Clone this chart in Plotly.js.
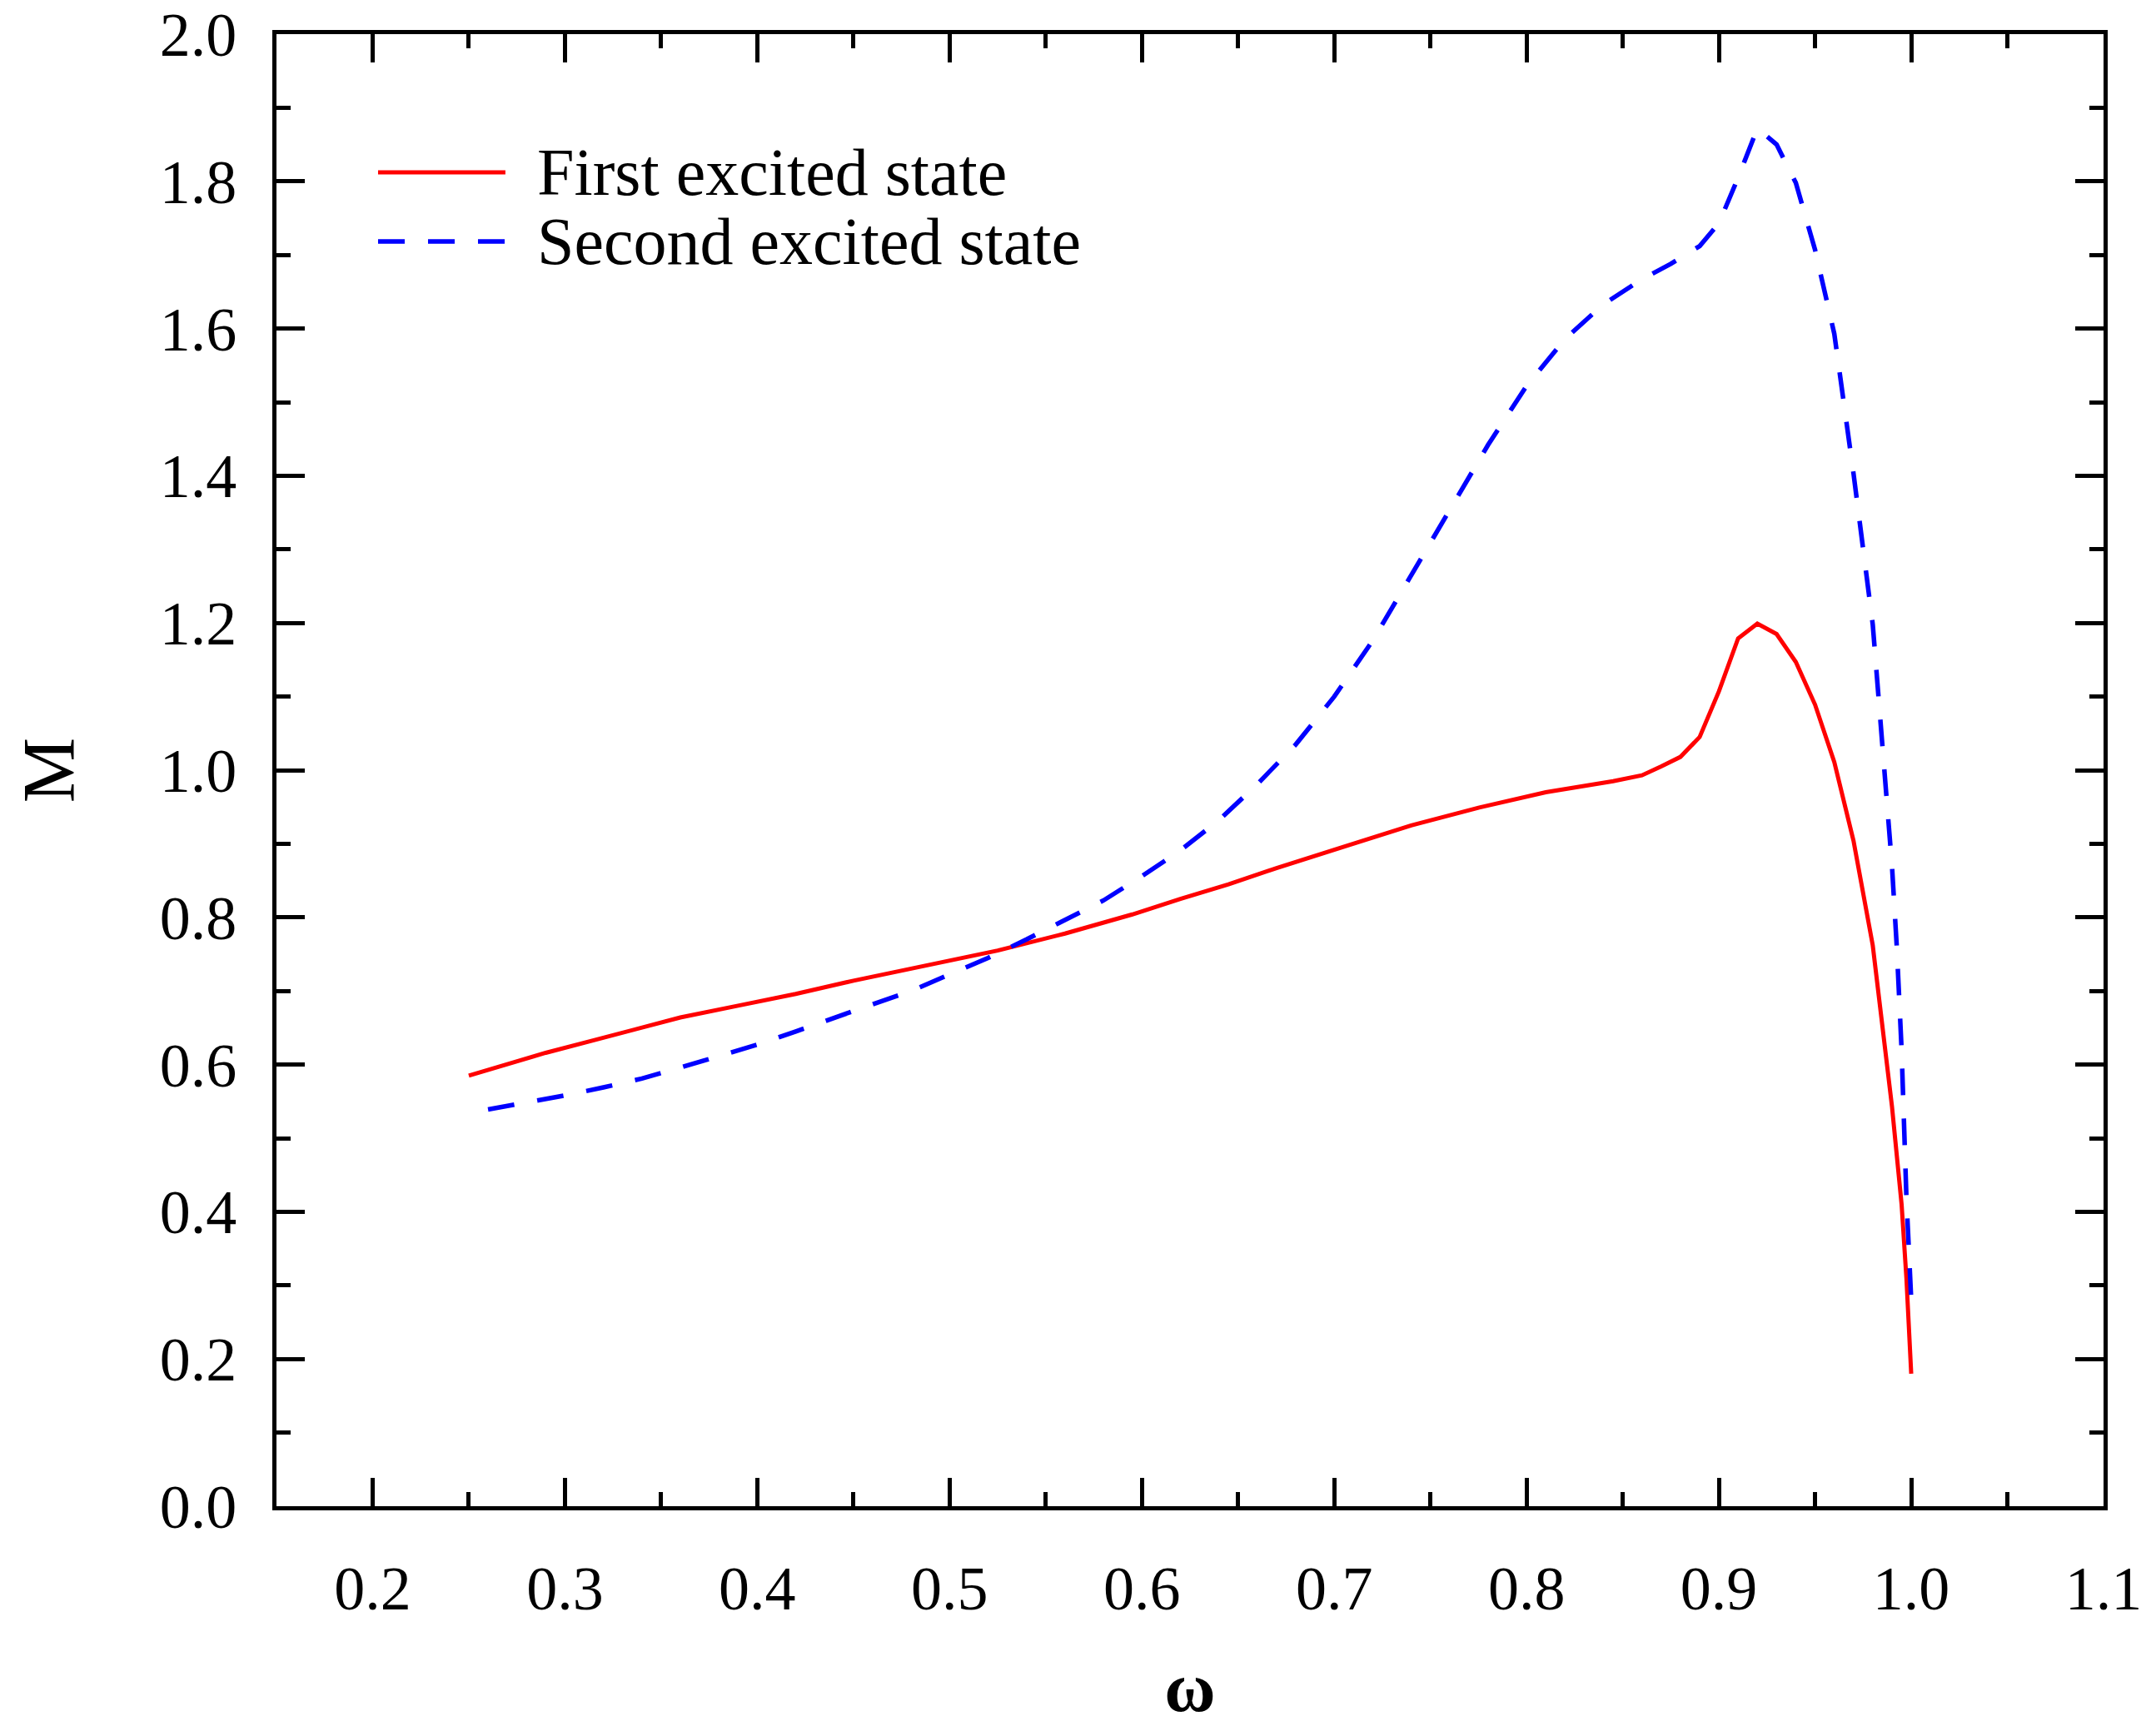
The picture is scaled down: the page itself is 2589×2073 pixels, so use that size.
<!DOCTYPE html>
<html>
<head>
<meta charset="utf-8">
<script src="https://cdn.plot.ly/plotly-3.0.1.min.js"></script>
<style>html,body{margin:0;padding:0;background:#fff;}#chart{width:2589px;height:2073px;}</style>
</head>
<body>
<div id="chart"></div>
<script>
// ---- data ----
const seriesNames = ["First excited state", "Second excited state"];

const omegaFirst = [0.25, 0.27, 0.29, 0.315, 0.34, 0.36, 0.39, 0.42, 0.45, 0.48, 0.50, 0.525, 0.56, 0.595, 0.62, 0.645, 0.67, 0.705, 0.74, 0.775, 0.81, 0.845, 0.86, 0.87, 0.88, 0.89, 0.90, 0.91, 0.92, 0.93, 0.94, 0.95, 0.96, 0.97, 0.98, 0.99, 0.9925, 0.995, 0.9975, 1.0];
const massFirst  = [0.585, 0.600, 0.616, 0.633, 0.651, 0.664, 0.680, 0.696, 0.714, 0.730, 0.742, 0.755, 0.778, 0.804, 0.825, 0.845, 0.867, 0.896, 0.925, 0.949, 0.970, 0.985, 0.993, 1.005, 1.018, 1.045, 1.107, 1.179, 1.199, 1.185, 1.147, 1.089, 1.011, 0.904, 0.762, 0.543, 0.48, 0.41, 0.31, 0.18];

const omegaSecond = [0.26, 0.28, 0.30, 0.32, 0.34, 0.36, 0.38, 0.40, 0.42, 0.44, 0.46, 0.48, 0.50, 0.52, 0.54, 0.56, 0.58, 0.60, 0.62, 0.64, 0.66, 0.68, 0.70, 0.72, 0.74, 0.76, 0.78, 0.80, 0.82, 0.84, 0.86, 0.875, 0.89, 0.90, 0.91, 0.92, 0.93, 0.94, 0.95, 0.96, 0.97, 0.98, 0.99, 0.9925, 0.995, 0.9975, 1.0];
const massSecond  = [0.539, 0.548, 0.558, 0.569, 0.581, 0.596, 0.611, 0.627, 0.645, 0.664, 0.682, 0.700, 0.722, 0.745, 0.770, 0.796, 0.823, 0.856, 0.891, 0.932, 0.981, 1.035, 1.100, 1.176, 1.264, 1.355, 1.442, 1.522, 1.586, 1.633, 1.667, 1.688, 1.712, 1.743, 1.805, 1.872, 1.850, 1.798, 1.707, 1.593, 1.403, 1.198, 0.870, 0.76, 0.62, 0.42, 0.28];

const xTickVals = [0.2, 0.3, 0.4, 0.5, 0.6, 0.7, 0.8, 0.9, 1.0, 1.1];
const yTickVals = [0.0, 0.2, 0.4, 0.6, 0.8, 1.0, 1.2, 1.4, 1.6, 1.8, 2.0];

// ---- styling ----
const RED = "#ff0000", BLUE = "#0000ff";
const SERIF = "Liberation Serif, DejaVu Serif, serif";
const DASH = "32px,28px";

const traces = [
  {x: omegaFirst, y: massFirst, name: seriesNames[0], mode: "lines",
   line: {color: RED, width: 5}, showlegend: false},
  {x: omegaSecond, y: massSecond, name: seriesNames[1], mode: "lines",
   line: {color: BLUE, width: 5.5, dash: DASH}, showlegend: false}
];

const axisCommon = {
  showline: true, linecolor: "#000", linewidth: 5, mirror: "ticks",
  showgrid: false, zeroline: false,
  ticks: "inside", ticklen: 34, tickwidth: 5, tickcolor: "#000",
  tickfont: {family: SERIF, size: 74, color: "#000"},
  tickformat: ".1f"
};

const layout = {
  width: 2589, height: 2073,
  paper_bgcolor: "#fff", plot_bgcolor: "#fff",
  margin: {l: 332, r: 63, t: 41, b: 264},
  showlegend: false,
  xaxis: Object.assign({}, axisCommon, {
    range: [0.15, 1.1], tickvals: xTickVals,
    ticklabelstandoff: 30,
    minor: {ticks: "inside", ticklen: 17, tickwidth: 5, tickcolor: "#000", dtick: 0.05, tick0: 0},
    title: {text: "ω", font: {family: SERIF, size: 84, color: "#000", weight: "bold"}, standoff: 55}
  }),
  yaxis: Object.assign({}, axisCommon, {
    range: [0, 2.0], tickvals: yTickVals,
    ticklabelstandoff: 28,
    minor: {ticks: "inside", ticklen: 17, tickwidth: 5, tickcolor: "#000", dtick: 0.1, tick0: 0},
    title: {text: "M", font: {family: SERIF, size: 88, color: "#000"}, standoff: 75}
  }),
  shapes: [
    {type: "line", xref: "paper", yref: "paper", x0: 0.0556, x1: 0.1253, y0: 0.9061, y1: 0.9061,
     line: {color: RED, width: 5}},
    {type: "line", xref: "paper", yref: "paper", x0: 0.0556, x1: 0.1253, y0: 0.8592, y1: 0.8592,
     line: {color: BLUE, width: 5.5, dash: DASH}}
  ],
  annotations: [
    {xref: "paper", yref: "paper", x: 0.1418, y: 0.9061, xanchor: "left", yanchor: "middle",
     text: seriesNames[0], showarrow: false, font: {family: SERIF, size: 80, color: "#000"}},
    {xref: "paper", yref: "paper", x: 0.1418, y: 0.8592, xanchor: "left", yanchor: "middle",
     text: seriesNames[1], showarrow: false, font: {family: SERIF, size: 80, color: "#000"}}
  ]
};

Plotly.newPlot("chart", traces, layout, {staticPlot: true, displayModeBar: false});
</script>
</body>
</html>
